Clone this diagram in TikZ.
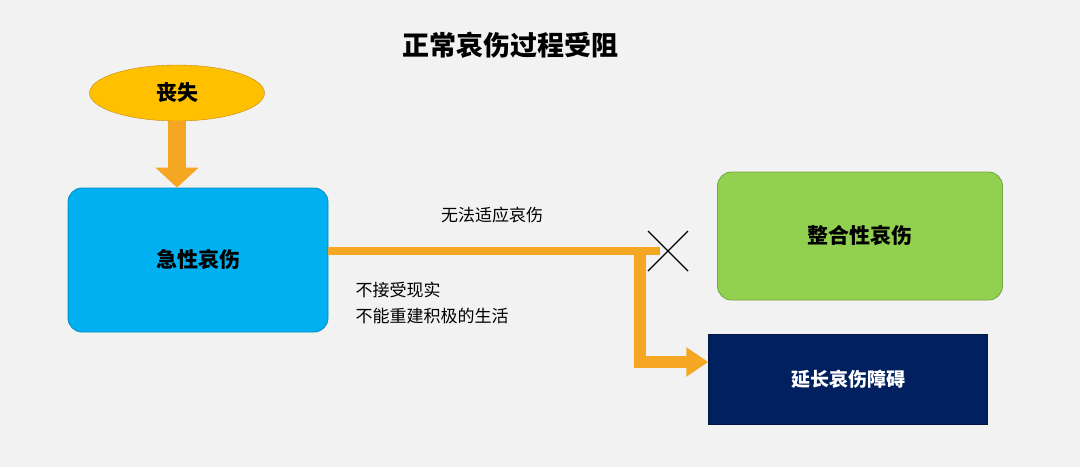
\documentclass[tikz,border=0pt]{standalone}
\usepackage{fontspec}
\setmainfont{Noto Sans CJK SC}
\usetikzlibrary{shapes.geometric,arrows.meta}
\definecolor{bg}{HTML}{F2F2F2}
\definecolor{org}{HTML}{F5A623}
\definecolor{yel}{HTML}{FFC000}
\definecolor{blu}{HTML}{00B0F0}
\definecolor{grn}{HTML}{92D050}
\definecolor{nav}{HTML}{002060}
\tikzset{
  box/.style={rounded corners=14pt, draw=#1!80!black, line width=0.8pt, inner sep=0pt},
  lbl/.style={font=\fontsize{17}{20}\selectfont},
  flow/.style={draw=org, line width=#1},
}
\begin{document}
\begin{tikzpicture}[x=1pt,y=-1pt]
\fill[bg] (0,0) rectangle (1080,467);
\useasboundingbox (0,0) rectangle (1080,467);
\node (title) at (510,45) {\fontsize{27}{30}\selectfont\bfseries 正常哀伤过程受阻};
\node[ellipse, fill=yel, draw=org!80!black, minimum width=175pt, minimum height=56pt] (loss) at (177,93) {\fontsize{21}{24}\selectfont\bfseries 丧失};
\node[box=blu, fill=blu, minimum width=260pt, minimum height=144pt] (acute) at (198,260) {\fontsize{21}{24}\selectfont\bfseries 急性哀伤};
\node[box=grn, fill=grn, minimum width=285pt, minimum height=128pt] (integ) at (860,236) {\fontsize{21}{24}\selectfont\bfseries 整合性哀伤};
\node[fill=nav, draw=nav!70!black, minimum width=279pt, minimum height=90pt, text=white] (prol) at (848,379) {\fontsize{19}{22}\selectfont\bfseries 延长哀伤障碍};
\draw[flow=18pt, -{Triangle[width=42pt,length=20pt]}] (loss.south) -- (loss.south |- acute.north);
\coordinate (j) at (640,251);
\coordinate (x) at (668,251);
\draw[flow=8pt] (acute.east |- j) -- ([xshift=-8]x);
\draw[flow=12pt, -{Triangle[width=28pt,length=22pt]}] ([yshift=-4]j) -- (640,362) -- (prol.west |- 0,362);
\draw[line width=1.2pt] ([shift={(-20,-20)}]x) -- ([shift={(20,20)}]x) ([shift={(-20,20)}]x) -- ([shift={(20,-20)}]x);
\node[lbl] (t1) at (492,215) {无法适应哀伤};
\node[lbl, anchor=west] (t2) at (352,290) {不接受现实};
\node[lbl, anchor=west] (t3) at (352,316) {不能重建积极的生活};
\end{tikzpicture}
\end{document}
